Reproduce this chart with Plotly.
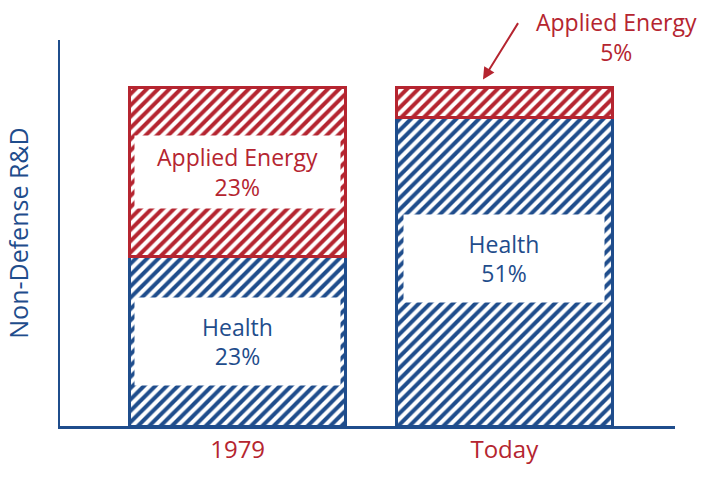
import plotly.graph_objects as go

categories = ["1979", "Today"]
health = [23, 51]
applied_energy = [23, 5]

BLUE = "#1f4d8c"
RED = "#b52530"
FONT = "Open Sans"

total = [h + a for h, a in zip(health, applied_energy)]
health_pct = [100 * h / t for h, t in zip(health, total)]
ae_pct = [100 * a / t for a, t in zip(applied_energy, total)]

fig = go.Figure()
for name, vals, col in [("Health", health, BLUE), ("Applied Energy", applied_energy, RED)]:
    fig.add_trace(go.Bar(
        x=categories, y=vals, name=name, width=0.81,
        marker=dict(color="white", line=dict(color=col, width=2.5),
                    pattern=dict(shape="/", fgcolor=col, bgcolor="white", fgopacity=1,
                                 size=8, solidity=0.5, fillmode="overlay")),
        hoverinfo="skip",
    ))

def box(i, y, text, col, w, h):
    fig.add_annotation(x=i, y=y, xref="x", yref="y", text=text, showarrow=False,
                       bgcolor="white", width=w, height=h, align="center",
                       font=dict(family=FONT, size=23, color=col))

box(0, health_pct[0] + ae_pct[0] / 2, "Applied Energy<br>23%", RED, 203, 70)
box(0, health_pct[0] / 2, "Health<br>23%", BLUE, 203, 85)
box(1, health_pct[1] / 2 + 4, "Health<br>51%", BLUE, 198, 85)

# callout for the small segment
fig.add_annotation(x=0.905, y=1.008, xref="paper", yref="paper", xanchor="center",
                   text="Applied Energy<br>5%", showarrow=False, align="center",
                   yanchor="middle", font=dict(family=FONT, size=23, color=RED))
fig.add_annotation(x=0.92, y=100 + 2.3, xref="x", yref="y", text="",
                   showarrow=True, arrowhead=2, arrowsize=1.2, arrowwidth=2,
                   arrowcolor=RED, ax=36, ay=-58)

fig.update_layout(
    barmode="stack", barnorm="percent",
    width=708, height=477,
    margin=dict(l=60, r=33, t=40, b=47),
    paper_bgcolor="white", plot_bgcolor="white",
    showlegend=False,
    xaxis=dict(type="category", range=[-0.666, 1.64], showgrid=False, zeroline=False,
               showline=True, linecolor=BLUE, linewidth=3, ticks="",
               tickfont=dict(family=FONT, size=24, color=RED)),
    yaxis=dict(range=[0, 114], showgrid=False, zeroline=False,
               showline=True, linecolor=BLUE, linewidth=2,
               showticklabels=False, ticks="",
               title=dict(text="Non-Defense R&D", standoff=22,
                          font=dict(family=FONT, size=25, color=BLUE))),
)

fig.write_html("out.html")
